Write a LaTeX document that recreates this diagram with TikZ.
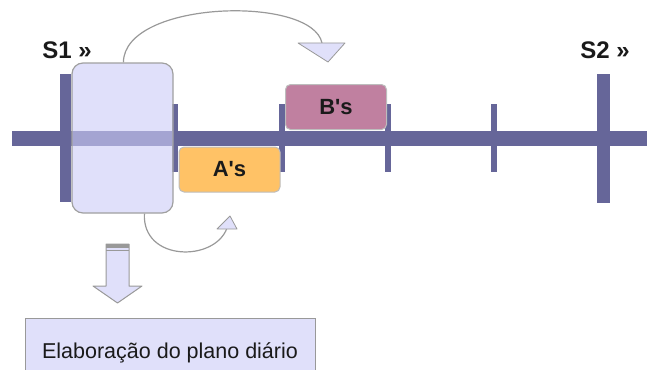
\documentclass[tikz,border=0pt]{standalone}
\usepackage{fontspec}
\setmainfont{Liberation Sans}
\definecolor{axis}{HTML}{666699}
\definecolor{boxfill}{HTML}{CCCCF7}
\definecolor{lav}{HTML}{E0E0FA}
\definecolor{edge}{HTML}{A0A0A0}
\definecolor{bfill}{HTML}{C080A0}
\definecolor{afill}{HTML}{FFC266}
\definecolor{arcgray}{HTML}{999999}
\definecolor{ink}{HTML}{1A1A1A}
\tikzset{
  tick/.style={fill=axis, draw=none},
  bigbox/.style={draw=edge, line width=1.2pt, fill=boxfill, fill opacity=0.61, rounded corners=11pt, minimum width=101pt, minimum height=150pt, inner sep=0pt},
  slot/.style={draw=edge!70, line width=1pt, rounded corners=5pt, minimum width=101pt, minimum height=45pt, inner sep=0pt, font=\fontsize{22}{24}\selectfont\bfseries, text=ink},
  lab/.style={font=\fontsize{24}{26}\selectfont\bfseries, text=ink, inner sep=0pt},
  arc/.style={draw=arcgray, line width=1.2pt},
  head/.style={fill=lav, draw=arcgray, line width=0.8pt, line join=round},
  notebox/.style={draw=arcgray, line width=1.2pt, fill=lav, minimum width=290pt, minimum height=54pt, inner sep=0pt, anchor=north west},
}
\begin{document}
\begin{tikzpicture}[x=1pt,y=-1pt]
\useasboundingbox (0,0) rectangle (647,369);
% axis and ticks
\fill[axis] (12,131) rectangle (647,146);
\fill[tick] (60,74) rectangle (71,202);
\fill[tick] (172,104) rectangle (178,172);
\fill[tick] (279,104) rectangle (285,172);
\fill[tick] (385,104) rectangle (391,172);
\fill[tick] (491,104) rectangle (497,172);
\fill[tick] (597,74) rectangle (610,203);
% labels
\node[lab] (s1) at (67,50) {S1 »};
\node[lab] (s2) at (605,50) {S2 »};
% slots
\node[slot, fill=bfill] (bs) at (336,107) {B\textquotesingle s};
\node[slot, fill=afill] (as) at (229.5,169.5) {A\textquotesingle s};
% big box
\node[bigbox] (box) at (122.5,138) {};
% top curved arrow
\coordinate (t1) at (322,43);
\draw[arc] ([xshift=52pt]box.north west) .. controls (124,0) and (312,-5) .. (t1);
\draw[head] (298,43) -- (345,43) -- (328,62) -- cycle;
% bottom curved arrow
\coordinate (t2) at (227,228);
\draw[arc] ([xshift=73pt]box.south west) .. controls (142,262) and (215,262) .. (t2);
\draw[head] (217,229) -- (237,229) -- (230,216) -- cycle;
% block arrow
\coordinate (da) at (117.5,244);
\draw[head, line width=1pt] (106,244) -- (129,244) -- (129,286) -- (142,286) -- (117.5,303) -- (93,286) -- (106,286) -- cycle;
\fill[arcgray] (106,244) rectangle (129,247.5);
\draw[arcgray, line width=1pt] (106,250.5) -- (129,250.5);
% note box
\node[notebox] (note) at (25,318) {};
\node[font=\fontsize{21.5}{23}\selectfont, text=ink, anchor=base] (notetext) at (170,358) {Elaboração do plano diário};
\end{tikzpicture}
\end{document}
